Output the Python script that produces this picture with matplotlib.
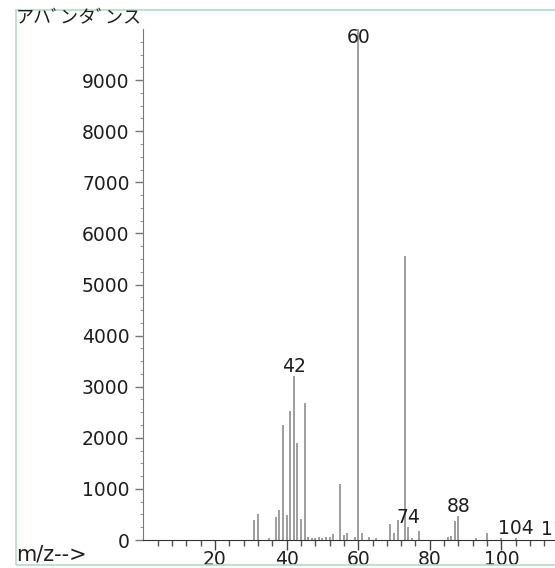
import numpy as np
import matplotlib
matplotlib.use("Agg")
import matplotlib.pyplot as plt
from matplotlib.patches import Rectangle

# mass spectrum peaks (m/z, abundance)
mz = [31, 32, 35, 37, 38, 39, 40, 41, 42, 43, 44, 45, 46, 47, 48, 49, 50,
      51, 52, 53, 55, 56, 57, 59, 60, 61, 63, 65, 69, 70, 71, 73, 74, 75,
      77, 85, 86, 87, 88, 93, 96, 100, 104, 116]
abundance = [390, 500, 30, 450, 580, 2250, 480, 2530, 3200, 1900, 420, 2680,
             60, 40, 30, 50, 40, 60, 50, 120, 1100, 100, 140, 60, 10000, 130,
             50, 30, 310, 130, 400, 5550, 260, 40, 180, 60, 70, 370, 460, 30,
             130, 40, 30, 20]
labelled = [42, 60, 74, 88, 104, 116]

ylim_top = 10000
xlim_right = 125

plt.rcParams['font.family'] = ['DejaVu Sans', 'Noto Sans CJK JP']
fs = 13.5
txt = '#1e1e1e'

fig = plt.figure(figsize=(5.55, 5.68), dpi=100)
ax = fig.add_axes([143.4 / 555, 28 / 568, xlim_right * 3.58 / 555, 511 / 568])

ax.vlines(mz, 0, abundance, colors='#8e8e8e', linewidth=1.2)

ax.set_xlim(0, xlim_right)
ax.set_ylim(0, ylim_top)

for m in labelled:
    a = abundance[mz.index(m)]
    ax.text(m, min(a, 9650), str(m), ha='center', va='bottom',
            fontsize=fs, color=txt, clip_on=False)

ax.spines['top'].set_visible(False)
ax.spines['right'].set_visible(False)
ax.spines['left'].set_color('#7a7a7a')
ax.spines['bottom'].set_color('#333333')

ax.set_xticks(np.arange(20, 101, 20))
ax.set_xticks(np.arange(4, xlim_right, 4), minor=True)
ax.set_yticks(np.arange(0, 9001, 1000))
ax.set_yticks(np.arange(0, ylim_top, 250), minor=True)
ax.tick_params(axis='x', which='major', length=7, width=1, color='#444444',
               labelsize=fs, labelcolor=txt, pad=0.5)
ax.tick_params(axis='x', which='minor', length=4, width=1, color='#555555')
ax.tick_params(axis='y', which='major', length=6, width=1, color='#777777',
               labelsize=fs, labelcolor=txt, pad=4)
ax.tick_params(axis='y', which='minor', length=2, width=0.8, color='#999999')

# outer frame and axis captions
fig.patches.append(Rectangle((16 / 555, 3 / 568), 1.0, 555 / 568,
                             transform=fig.transFigure, fill=False,
                             edgecolor='#b4dcc4', linewidth=1.2))
fig.text(16 / 555, 1 - 18 / 568, 'アハﾞンタﾞンス', ha='left', va='center',
         fontsize=13, color=txt, family=['Noto Sans CJK JP', 'DejaVu Sans'])
fig.text(16 / 555, 13 / 568, 'm/z-->', ha='left', va='center',
         fontsize=15, color=txt)

fig.savefig('out.png', dpi=100)
